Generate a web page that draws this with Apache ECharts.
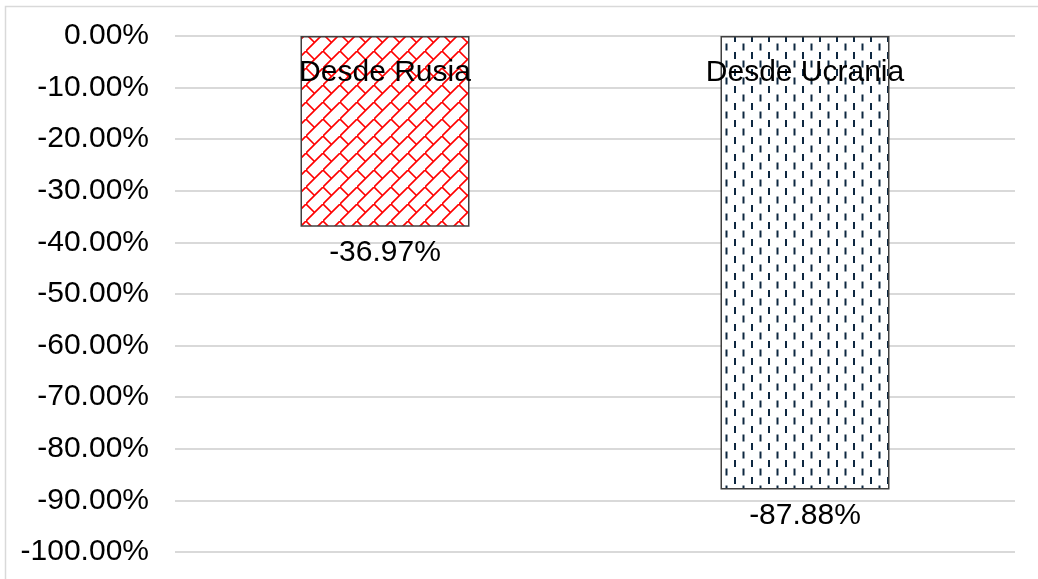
<!DOCTYPE html>
<html>
<head>
<meta charset="utf-8">
<script src="https://cdn.jsdelivr.net/npm/echarts@6/dist/echarts.min.js"></script>
<style>
html,body{margin:0;padding:0;background:#fff;}
#chart{width:1038px;height:579px;}
</style>
</head>
<body>
<div id="chart"></div>
<script>
// Data
const categories = ['Desde Rusia', 'Desde Ucrania'];
const values = [-36.97, -87.88];
const yMin = -100, yMax = 0, yStep = 10;

function brickPattern() {
  const s = 17;
  const c = document.createElement('canvas');
  c.width = s; c.height = s;
  const g = c.getContext('2d');
  g.fillStyle = '#fff'; g.fillRect(0, 0, s, s);
  g.strokeStyle = '#ff0000'; g.lineWidth = 1.6;
  g.beginPath();
  g.moveTo(-2, s + 2); g.lineTo(s + 2, -2);
  g.moveTo(0, 0); g.lineTo(s / 2, s / 2);
  g.stroke();
  return c;
}
function dashPattern() {
  const s = 17;
  const c = document.createElement('canvas');
  c.width = s; c.height = s;
  const g = c.getContext('2d');
  g.fillStyle = '#fff'; g.fillRect(0, 0, s, s);
  g.fillStyle = '#0e2841';
  g.fillRect(3, 1, 2, 7);
  g.fillRect(11.5, 9.5, 2, 7);
  return c;
}
const patterns = [brickPattern(), dashPattern()];

const chart = echarts.init(document.getElementById('chart'));
const font = "'Liberation Sans', Arial, sans-serif";
chart.setOption({
  animation: false,
  backgroundColor: '#fff',
  graphic: [{
    type: 'rect', silent: true, z: -10,
    shape: { x: 5.5, y: 6.5, width: 2000, height: 2000 },
    style: { fill: 'none', stroke: '#d9d9d9', lineWidth: 1.5 }
  }],
  grid: { left: 175, right: 23, top: 36, bottom: 27, containLabel: false },
  xAxis: {
    type: 'category', data: categories,
    axisLine: { show: false }, axisTick: { show: false }, axisLabel: { show: false }
  },
  yAxis: {
    type: 'value', min: yMin, max: yMax, interval: yStep,
    axisLine: { show: false }, axisTick: { show: false },
    axisLabel: {
      formatter: v => v.toFixed(2) + '%',
      fontSize: 30, color: '#000', fontFamily: font, margin: 26
    },
    splitLine: { lineStyle: { color: '#d9d9d9', width: 2 } }
  },
  series: [{
    type: 'bar', barWidth: 169, barGap: '-100%',
    data: values.map((v, i) => ({
      value: v,
      itemStyle: { color: { image: patterns[i], repeat: 'repeat' } }
    })),
    itemStyle: { borderColor: '#404040', borderWidth: 1.5 },
    label: {
      show: true, position: 'insideTop', distance: 22,
      formatter: p => p.name,
      fontSize: 30, color: '#000', fontFamily: font
    }
  }, {
    type: 'bar', barWidth: 169, barGap: '-100%', silent: true,
    data: values,
    itemStyle: { color: 'rgba(0,0,0,0)' },
    label: {
      show: true, position: 'bottom', distance: 11,
      formatter: p => p.value.toFixed(2) + '%',
      fontSize: 30, color: '#000', fontFamily: font
    }
  }]
});
</script>
</body>
</html>
